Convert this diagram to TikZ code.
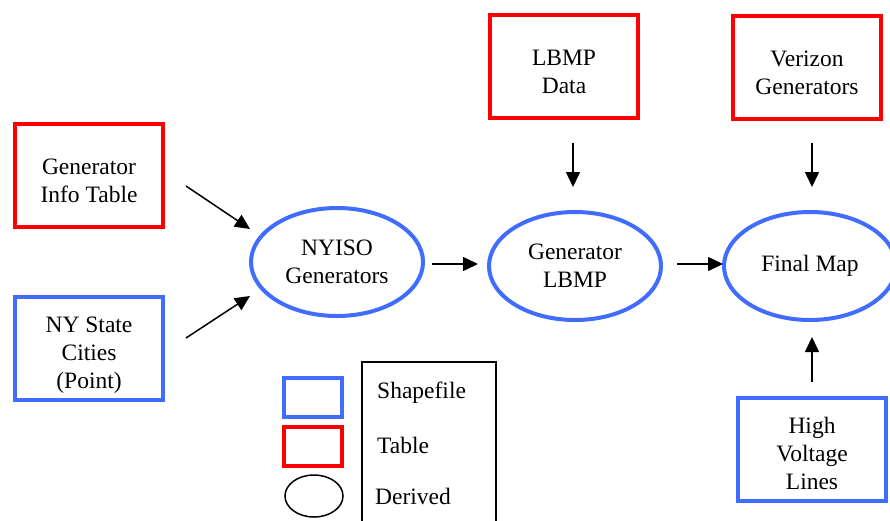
\documentclass[tikz,border=0pt]{standalone}
\usepackage{fontspec}
\setmainfont{Liberation Serif}
\usetikzlibrary{shapes.geometric,arrows.meta}
\definecolor{tblred}{RGB}{255,0,0}
\definecolor{shpblue}{RGB}{64,108,255}
\newcommand{\dgfont}{\fontsize{23.5}{28}\selectfont}
\tikzset{
  boxtext/.style={align=center, font=\dgfont, inner sep=0pt},
  tablebox/.style={draw=tblred, line width=4pt, minimum width=148pt, minimum height=103pt, inner sep=0pt},
  shapebox/.style={draw=shpblue, line width=4pt, minimum width=148pt, minimum height=103pt, inner sep=0pt},
  derived/.style={ellipse, draw=shpblue, line width=4pt, minimum width=172pt, minimum height=108pt, align=center, font=\dgfont, inner sep=0pt},
  arr/.style={-{Triangle[length=15pt,width=14pt]}, line width=1.5pt},
  legtext/.style={anchor=west, inner sep=0pt, font=\dgfont},
}
\begin{document}
\begin{tikzpicture}[x=1pt,y=-1pt]
\useasboundingbox (0,0) rectangle (890,520);
% source nodes
\node[tablebox, label={[boxtext,yshift=-6pt]center:{Generator\\Info Table}}] (gi) at (89,175) {};
\node[shapebox, label={[boxtext,yshift=-7pt]center:{NY State\\Cities\\(Point)}}] (nys) at (89,348) {};
\node[tablebox, label={[boxtext,yshift=-6pt]center:{LBMP\\Data}}] (lbmp) at (564,66) {};
\node[tablebox, label={[boxtext,yshift=-6pt]center:{Verizon\\Generators}}] (ver) at (807,67) {};
\node[shapebox, label={[boxtext,yshift=-4pt]center:{High\\Voltage\\Lines}}] (hvl) at (812,449) {};
% derived nodes
\node[derived] (nyiso) at (337,262) {NYISO\\Generators};
\node[derived] (glbmp) at (575,266) {Generator\\LBMP};
\node[derived] (fmap) at (810,266) {Final Map};
% arrow end points (arrows float between nodes)
\coordinate (a1s) at (186,186); \coordinate (a1e) at (250,229);
\coordinate (a2s) at (186,338); \coordinate (a2e) at (250,296);
\coordinate (a3s) at (432,264); \coordinate (a3e) at (478,264);
\coordinate (a4s) at (677,264); \coordinate (a4e) at (723,264);
\coordinate (a5s) at (573,143); \coordinate (a5e) at (573,187);
\coordinate (a6s) at (812,143); \coordinate (a6e) at (812,187);
\coordinate (a7s) at (812,382); \coordinate (a7e) at (812,337);
\draw[arr] (a1s) -- (a1e);
\draw[arr] (a2s) -- (a2e);
\draw[arr] (a3s) -- (a3e);
\draw[arr] (a4s) -- (a4e);
\draw[arr] (a5s) -- (a5e);
\draw[arr] (a6s) -- (a6e);
\draw[arr] (a7s) -- (a7e);
% legend
\draw[line width=1.5pt] (362,362) rectangle (496,530);
\draw[draw=shpblue, line width=4pt] (284,378) rectangle (342,417);
\draw[draw=tblred, line width=4pt] (284,427) rectangle (342,466);
\draw[line width=1.5pt] (314,496) ellipse [x radius=29, y radius=21];
\node[legtext] (lshape) at (377,393) {Shapefile};
\node[legtext] (ltable) at (377,445) {Table};
\node[legtext] (lderiv) at (375,496) {Derived};
\end{tikzpicture}
\end{document}
